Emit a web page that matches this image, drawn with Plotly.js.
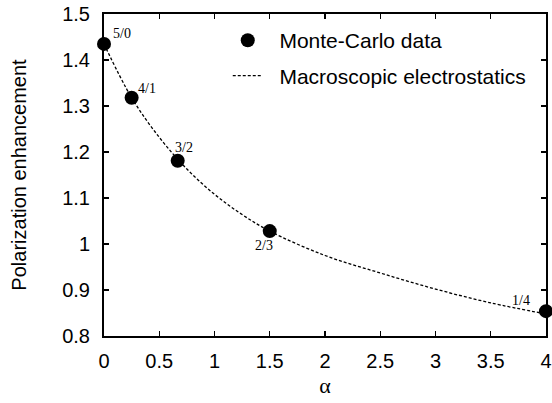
<!DOCTYPE html>
<html>
<head>
<meta charset="utf-8">
<script src="https://cdn.plot.ly/plotly-3.0.1.min.js"></script>
<style>html,body{margin:0;padding:0;background:#fff;}#chart{width:552px;height:403px;}</style>
</head>
<body>
<div id="chart"></div>
<script>
// Monte-Carlo data points
const mcAlpha = [0, 0.25, 0.667, 1.5, 4];
const mcValue = [1.435, 1.318, 1.181, 1.028, 0.854];
const mcLabels = ["5/0", "4/1", "3/2", "2/3", "1/4"];

// Macroscopic electrostatics curve
const curveAlpha = [0, 0.25, 0.5, 0.75, 1, 1.25, 1.5, 2, 2.5, 3, 3.5, 4];
const curveValue = [1.435, 1.318, 1.232, 1.163, 1.108, 1.064, 1.028, 0.975, 0.937, 0.902, 0.872, 0.848];

const xTicks = [0, 0.5, 1, 1.5, 2, 2.5, 3, 3.5, 4];
const xTickText = ["0", "0.5", "1", "1.5", "2", "2.5", "3", "3.5", "4"];
const yTicks = [0.8, 0.9, 1, 1.1, 1.2, 1.3, 1.4, 1.5];
const yTickText = ["0.8", "0.9", "1", "1.1", "1.2", "1.3", "1.4", "1.5"];

const labelShift = [[18, 10], [15, 9], [6, 13], [-6, -14], [-25, 11]];

const traces = [
  {
    x: mcAlpha, y: mcValue, mode: 'markers', name: '\u00a0\u00a0Monte-Carlo data',
    legendgroup: 'a', cliponaxis: false,
    marker: {color: '#000', size: 14, symbol: 'circle'}
  },
  {
    x: curveAlpha, y: curveValue, mode: 'lines', name: '\u00a0\u00a0Macroscopic electrostatics',
    legendgroup: 'b',
    line: {color: '#000', width: 1.3, dash: '3px,2px', shape: 'spline', smoothing: 1}
  }
];

const annotations = mcAlpha.map((a, i) => ({
  x: a, y: mcValue[i], xref: 'x', yref: 'y', text: mcLabels[i], showarrow: false,
  xshift: labelShift[i][0], yshift: labelShift[i][1],
  font: {family: 'Liberation Serif, Times New Roman, serif', size: 14, color: '#000'}
}));

const layout = {
  width: 552, height: 403,
  margin: {l: 104, r: 6, t: 14, b: 67},
  paper_bgcolor: '#fff', plot_bgcolor: '#fff',
  font: {family: 'Liberation Sans, Arial, sans-serif', size: 20, color: '#000'},
  showlegend: true,
  legend: {
    x: 0.280, y: 0.981, xanchor: 'left', yanchor: 'top',
    bgcolor: 'rgba(0,0,0,0)', tracegroupgap: 5,
    font: {family: 'Liberation Sans, Arial, sans-serif', size: 21, color: '#000'}
  },
  xaxis: {
    range: [0, 4], tickvals: xTicks, ticktext: xTickText,
    ticks: 'inside', ticklen: 5, tickwidth: 1.3, tickcolor: '#000',
    showline: true, linewidth: 2, linecolor: '#000', mirror: 'ticks',
    showgrid: false, zeroline: false,
    tickfont: {size: 20}, ticklabelstandoff: 6,
    title: {text: 'α', font: {family: 'Liberation Serif, Times New Roman, serif', size: 22}, standoff: 7}
  },
  yaxis: {
    range: [0.8, 1.5], tickvals: yTicks, ticktext: yTickText,
    ticks: 'inside', ticklen: 5, tickwidth: 1.3, tickcolor: '#000',
    showline: true, linewidth: 2, linecolor: '#000', mirror: 'ticks',
    showgrid: false, zeroline: false,
    tickfont: {size: 20}, ticklabelstandoff: 8,
    title: {text: 'Polarization enhancement', font: {size: 20}, standoff: 30}
  },
  annotations: annotations
};

Plotly.newPlot('chart', traces, layout, {displayModeBar: false, staticPlot: true});
</script>
</body>
</html>
